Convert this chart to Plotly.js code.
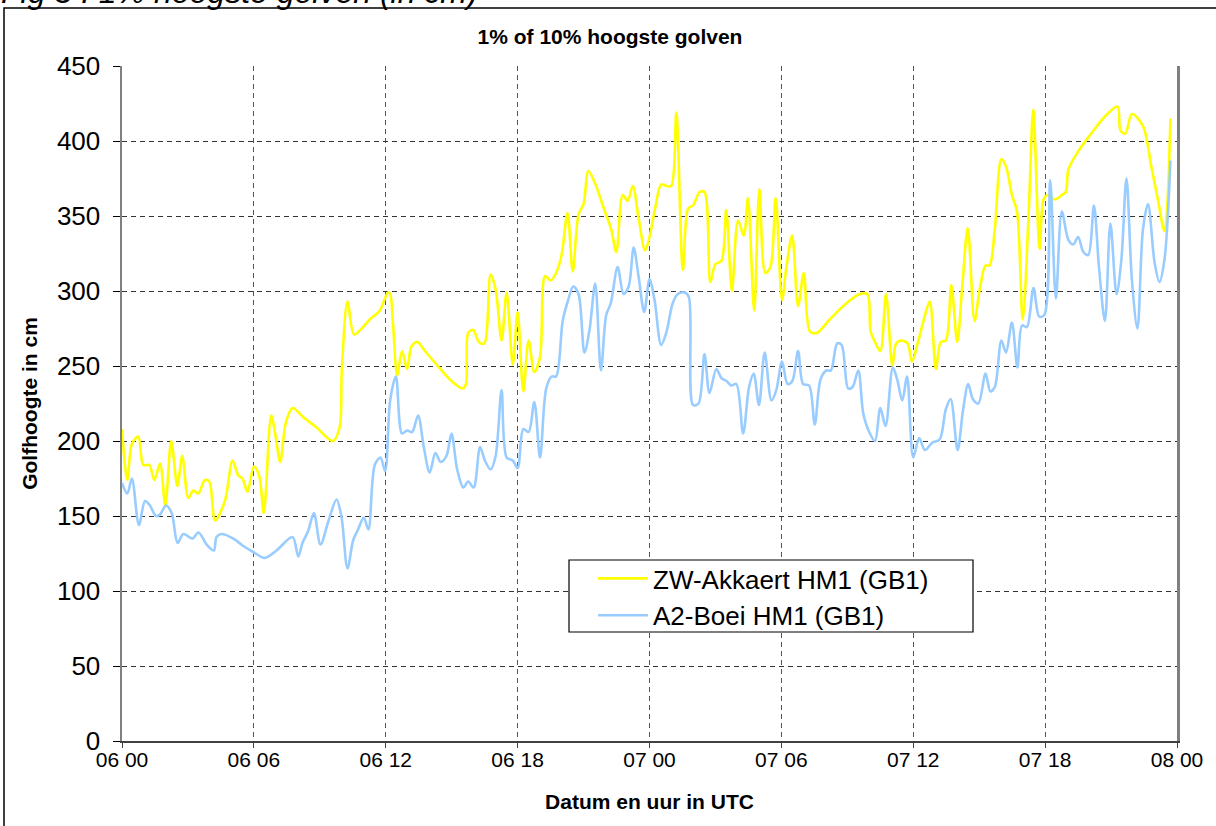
<!DOCTYPE html>
<html>
<head>
<meta charset="utf-8">
<script src="https://cdn.plot.ly/plotly-3.0.1.min.js"></script>
<style>
  html, body { margin: 0; padding: 0; background: #fff; }
  #chart { width: 1216px; height: 826px; }
</style>
</head>
<body>
<div id="chart"></div>
<script>
// ---- Data (hours since 06 00 UTC) ----
const zwHours = [0,0.24,0.45,0.74,0.97,1.24,1.47,1.73,1.97,2.24,2.52,2.74,3.02,3.24,3.47,3.77,3.97,4.24,4.68,5.03,5.29,5.48,5.71,6.0,6.24,6.45,6.79,6.98,7.2,7.45,7.76,8.24,8.85,9.6,9.9,10.0,10.26,10.56,10.97,11.27,11.73,12.1,12.2,12.33,12.52,12.74,12.97,13.17,13.44,13.78,14.31,14.92,15.5,15.65,15.75,15.98,16.24,16.48,16.77,17.0,17.27,17.5,17.78,18.0,18.26,18.5,18.76,19.02,19.25,19.5,19.75,20.0,20.27,20.51,20.77,21.0,21.22,21.52,21.9,22.24,22.49,22.78,23.0,23.24,23.5,23.8,24.0,24.27,24.53,24.79,24.99,25.22,25.52,25.76,25.98,26.28,26.5,26.77,27.0,27.27,27.49,27.75,28.03,28.29,28.48,28.76,29.0,29.27,29.5,29.74,30.03,30.23,30.49,30.76,31.02,31.3,31.6,32.2,32.97,33.57,33.91,34.06,34.26,34.5,34.76,35.05,35.22,35.45,35.74,35.94,36.2,36.5,36.75,37.03,37.25,37.48,37.73,38.0,38.23,38.48,38.79,39.02,39.29,39.47,39.71,40.01,40.22,40.49,40.72,40.98,41.25,41.46,41.75,41.93,42.12,42.45,42.76,42.94,43.06,43.5,44.1,44.7,45.29,45.43,45.65,45.95,46.45,46.83,47.13,47.43,47.7];
const zwValues = [208,174,198,203,184,184,174,185,157,200,170,190,162,167,165,174,173,147,160,187,177,175,166,183,177,152,217,204,186,212,222,216,209,200,209,247,293,271,276,281,287,299,298,278,244,260,248,263,266,260,251,241,235,238,272,274,266,265,311,301,267,299,251,286,233,267,246,256,310,307,312,324,352,313,351,358,380,372,356,342,326,364,360,370,349,327,336,356,371,370,370,419,314,355,357,366,366,306,318,320,354,300,347,337,362,287,368,312,316,362,294,316,337,290,312,273,272,281,292,298,298,273,266,260,298,250,265,267,265,253,265,282,293,248,266,267,304,266,303,342,280,301,317,317,341,388,383,364,353,281,351,421,328,361,364,361,364,366,381,393,405,416,423,407,405,418,410,383,361,340,415];

const a2Hours = [0,0.24,0.45,0.77,1.05,1.27,1.55,1.73,2.0,2.26,2.53,2.79,3.21,3.48,3.85,4.18,4.3,4.53,5.06,5.52,5.97,6.5,7.03,7.76,8.02,8.21,8.47,8.73,9.03,9.38,9.76,9.98,10.26,10.52,10.74,11.0,11.21,11.5,11.76,11.97,12.2,12.46,12.74,12.97,13.2,13.47,13.73,14.0,14.26,14.5,14.76,14.99,15.25,15.53,15.75,16.0,16.29,16.51,16.77,17.0,17.27,17.5,17.78,18.0,18.26,18.5,18.76,19.02,19.3,19.55,19.75,20.05,20.3,20.53,20.77,21.04,21.27,21.53,21.79,22.03,22.24,22.55,22.82,23.05,23.28,23.5,23.76,24.0,24.23,24.53,24.76,25.06,25.29,25.6,25.79,25.98,26.23,26.5,26.73,27.04,27.27,27.5,27.72,27.95,28.26,28.53,28.74,28.98,29.24,29.55,29.77,30.03,30.28,30.5,30.76,30.99,31.26,31.52,31.78,32.05,32.25,32.54,32.74,33.04,33.24,33.5,33.73,34.03,34.26,34.5,34.74,35.07,35.27,35.5,35.72,36.0,36.27,36.53,36.87,37.2,37.48,37.7,38.02,38.26,38.5,38.71,38.96,39.29,39.51,39.71,40.01,40.22,40.49,40.74,40.95,41.17,41.47,41.73,41.96,42.23,42.49,42.76,43.06,43.28,43.5,43.74,43.96,44.22,44.45,44.72,44.97,45.25,45.47,45.7,45.95,46.2,46.45,46.68,46.98,47.2,47.43,47.7];
const a2Values = [172,165,175,144,160,157,150,151,157,152,132,138,135,139,131,127,136,138,135,130,126,122,127,136,123,132,140,152,131,146,161,150,115,134,141,149,141,184,189,180,227,243,205,207,206,217,196,179,192,186,190,205,181,169,173,169,196,187,181,190,234,189,187,182,208,206,226,189,235,243,243,280,294,303,298,259,274,305,247,284,292,316,298,303,329,310,286,308,294,264,272,292,298,299,296,224,225,258,232,248,242,240,237,238,205,236,245,224,259,227,234,253,238,240,260,238,237,211,241,247,247,265,264,235,236,247,218,205,200,222,210,249,241,227,243,189,202,194,199,201,221,228,194,220,238,228,225,245,233,236,267,259,279,249,277,276,302,283,284,374,295,353,334,331,336,326,324,357,316,280,345,298,321,375,307,275,341,358,319,306,321,387];

const tickHours = [0,6,12,18,24,30,36,42,48];
const tickLabels = ["06 00","06 06","06 12","06 18","07 00","07 06","07 12","07 18","08 00"];
const seriesNames = ["ZW-Akkaert HM1 (GB1)", "A2-Boei HM1 (GB1)"];

// ---- pixel helpers (plot area 122..1177 x 66..741) ----
const L = 122, R = 1177, T = 66, B = 741;
const px = v => (v - L) / (R - L);
const py = v => (B - v) / (B - T);

const font = "Arial, 'Liberation Sans', Helvetica, sans-serif";

const traces = [
  { x: zwHours, y: zwValues, name: seriesNames[0], type: 'scatter', mode: 'lines',
    line: { color: '#FFFF00', width: 2.6, shape: 'spline', smoothing: 0.9 } },
  { x: a2Hours, y: a2Values, name: seriesNames[1], type: 'scatter', mode: 'lines',
    line: { color: '#99CCFF', width: 2.6, shape: 'spline', smoothing: 0.9 } }
];

const layout = {
  width: 1216, height: 826,
  margin: { l: L, r: 1216 - R, t: T, b: 826 - B, pad: 0 },
  paper_bgcolor: '#ffffff', plot_bgcolor: '#ffffff',
  showlegend: true,
  title: { text: '1% of 10% hoogste golven', xref: 'paper', x: px(610), xanchor: 'center',
           yref: 'container', y: 1 - 37 / 826, yanchor: 'middle',
           font: { family: font, size: 21, color: '#000', weight: 'bold' } },
  xaxis: {
    range: [0, 48], tickvals: tickHours, ticktext: tickLabels,
    showgrid: true, gridcolor: '#555555', gridwidth: 1, griddash: '5px,4px',
    zeroline: false, showline: true, linecolor: '#404040', linewidth: 2,
    ticks: 'outside', ticklen: 5, tickcolor: '#404040', tickwidth: 1,
    ticklabelstandoff: -6,
    tickfont: { family: font, size: 21, color: '#000' },
    title: { text: 'Datum en uur in UTC', standoff: 24,
             font: { family: font, size: 21, color: '#000', weight: 'bold' } },
    fixedrange: true
  },
  yaxis: {
    range: [0, 450], dtick: 50, tick0: 0,
    showgrid: true, gridcolor: '#333333', gridwidth: 1, griddash: '5px,4px',
    zeroline: false, showline: true, linecolor: '#808080', linewidth: 2.5, mirror: true,
    ticks: 'outside', ticklen: 7, tickcolor: '#000', tickwidth: 1,
    ticklabelstandoff: 7,
    tickfont: { family: font, size: 26, color: '#000' },
    title: { text: 'Golfhoogte in cm', standoff: 14,
             font: { family: font, size: 21, color: '#000', weight: 'bold' } },
    fixedrange: true
  },
  legend: {
    x: px(593), y: py(555), xanchor: 'left', yanchor: 'top',
    bgcolor: 'rgba(0,0,0,0)', borderwidth: 0, itemwidth: 50,
    font: { family: font, size: 26, color: '#000' },
    tracegroupgap: 0
  },
  shapes: [
    // outer chart frame
    { type: 'rect', xref: 'paper', yref: 'paper', x0: px(4), x1: px(1240), y0: py(8), y1: py(840),
      line: { color: '#000', width: 1.5 }, fillcolor: 'rgba(0,0,0,0)', layer: 'below' },
    // legend box
    { type: 'rect', xref: 'paper', yref: 'paper', x0: px(569), x1: px(973), y0: py(560), y1: py(632),
      line: { color: '#000', width: 1.2 }, fillcolor: '#ffffff', layer: 'above' }
  ],
  annotations: [
    { text: 'Fig 3 : 1% hoogste golven (in cm)', xref: 'paper', yref: 'paper',
      x: px(-1), xanchor: 'left', y: py(12), yanchor: 'bottom', showarrow: false,
      font: { family: font, size: 32, color: '#000', style: 'italic' } }
  ]
};

Plotly.newPlot('chart', traces, layout, { displayModeBar: false, staticPlot: true });
</script>
</body>
</html>
